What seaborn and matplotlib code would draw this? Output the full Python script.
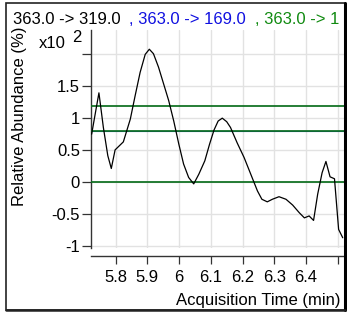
import matplotlib
matplotlib.use('Agg')
import matplotlib.pyplot as plt
import seaborn as sns
import pandas as pd
from matplotlib.patches import Rectangle
from matplotlib.lines import Line2D

# chromatogram trace (363.0 -> 319.0), abundance in units of x10^2 %
time_min = [5.724, 5.747, 5.761, 5.775, 5.786, 5.798, 5.824, 5.846, 5.861, 5.877,
            5.893, 5.906, 5.919, 5.935, 5.951, 5.967, 5.983, 5.999, 6.014, 6.030,
            6.046, 6.062, 6.081, 6.096, 6.110, 6.123, 6.136, 6.150, 6.162, 6.183,
            6.205, 6.226, 6.247, 6.261, 6.278, 6.294, 6.315, 6.337, 6.358, 6.379,
            6.395, 6.410, 6.424, 6.437, 6.451, 6.463, 6.476, 6.490, 6.503, 6.516]
abundance = [0.745, 1.39, 0.85, 0.41, 0.21, 0.50, 0.625, 0.98, 1.34, 1.71,
             1.99, 2.07, 2.00, 1.79, 1.53, 1.27, 0.95, 0.59, 0.28, 0.07,
             -0.03, 0.12, 0.33, 0.59, 0.81, 0.95, 0.995, 0.94, 0.85, 0.61,
             0.38, 0.12, -0.14, -0.27, -0.31, -0.27, -0.23, -0.27, -0.36, -0.48,
             -0.56, -0.53, -0.60, -0.19, 0.145, 0.32, 0.08, 0.05, -0.74, -0.87]

# flat traces of the other transitions (blue one sits under the green)
blue_levels = [0.80]
green_levels = [1.19, 0.79, 0.0]

x_ticks = [5.8, 5.9, 6.0, 6.1, 6.2, 6.3, 6.4, 6.5]
x_labels = ['5.8', '5.9', '6', '6.1', '6.2', '6.3', '6.4', '']
y_ticks = [-1, -0.5, 0, 0.5, 1, 1.5, 2]
y_labels = ['-1', '-0.5', '0', '0.5', '1', '1.5', '']

sns.set_theme(style='whitegrid')
plt.rcParams['font.family'] = ['Liberation Sans', 'DejaVu Sans']

W, H = 347, 312
fig = plt.figure(figsize=(W / 100, H / 100), dpi=100)
fig.patch.set_facecolor('white')

def fx(px):
    return px / W

def fy(py):
    return 1 - py / H

ax = fig.add_axes([fx(91), fy(248), fx(344) - fx(91), fy(30) - fy(248)])
ax.set_facecolor('white')

df = pd.DataFrame({'time': time_min, 'abund': abundance})
for lvl in blue_levels:
    ax.axhline(lvl, color='#1f3fd0', lw=0.8, zorder=2)
for lvl in green_levels:
    ax.axhline(lvl, color='#0b6e1e', lw=1.25, zorder=3)
sns.lineplot(data=df, x='time', y='abund', ax=ax, color='black', lw=0.9,
             sort=False, estimator=None, zorder=4)

ax.set_xlim(5.722, 6.520)
ax.set_ylim(-1.03, 2.37)
ax.set_xticks(x_ticks)
ax.set_xticklabels(x_labels)
ax.set_yticks(y_ticks)
ax.set_yticklabels(y_labels)
ax.set_xlabel('')
ax.set_ylabel('')

ax.grid(True, color='#e2e2e2', lw=1.0)
for s in ['top', 'right']:
    ax.spines[s].set_visible(False)
ax.spines['left'].set_color('#333333')
ax.spines['left'].set_linewidth(1.0)
ax.spines['bottom'].set_color('#333333')
ax.spines['bottom'].set_linewidth(1.0)
ax.spines['bottom'].set_position(('outward', 5.8))

ax.tick_params(axis='x', direction='out', length=5.8, width=0.9, color='#333333',
               labelsize=12, pad=4, bottom=True, labelcolor='black')
ax.tick_params(axis='y', direction='out', length=6.5, width=0.9, color='#333333',
               labelsize=12, pad=1.5, left=True, labelcolor='black')

# header with the three transitions
fig.text(fx(13), fy(24), '363.0 -> 319.0', color='black', fontsize=12, va='baseline')
fig.text(fx(129), fy(24), ', 363.0 -> 169.0', color='#1010e0', fontsize=12, va='baseline')
fig.text(fx(255), fy(24), ', 363.0 -> 1', color='#108a10', fontsize=12, va='baseline')

fig.text(fx(20), fy(116), 'Relative Abundance (%)', rotation=90, fontsize=12,
         ha='center', va='center', color='black')
fig.text(fx(39), fy(48), 'x10', fontsize=12, va='baseline', color='black')
fig.text(fx(72), fy(42), '2', fontsize=12, va='baseline', color='black')
fig.text(fx(340), fy(305), 'Acquisition Time (min)', fontsize=12, ha='right',
         va='baseline', color='black')

# outer frame
fig.patches.append(Rectangle((fx(6), fy(310)), fx(345) - fx(6), fy(3) - fy(310),
                             transform=fig.transFigure, fill=False,
                             edgecolor='#222222', lw=1.2))
fig.lines.append(Line2D([fx(345), fx(345)], [fy(310), fy(3)],
                        transform=fig.transFigure, color='black', lw=2.2))
fig.lines.append(Line2D([fx(6), fx(345)], [fy(310), fy(310)],
                        transform=fig.transFigure, color='#222222', lw=1.8))

fig.savefig('out.png', dpi=100)
